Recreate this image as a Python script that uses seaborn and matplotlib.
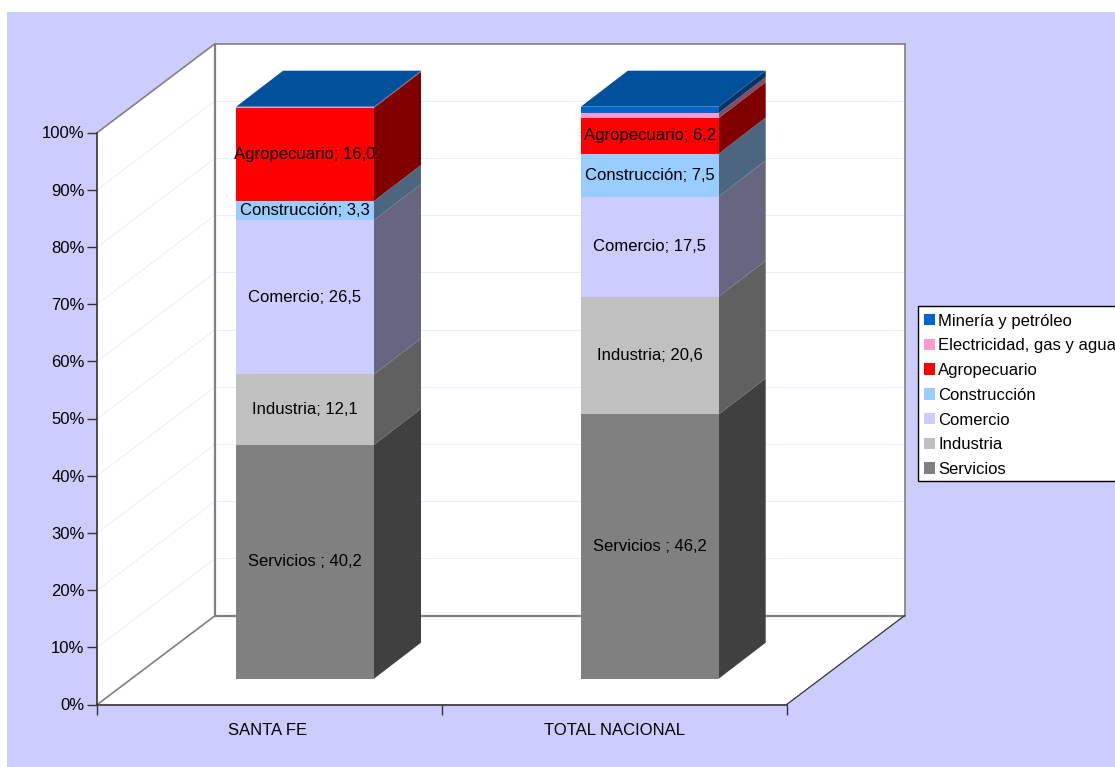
import matplotlib
matplotlib.use("Agg")
import matplotlib.pyplot as plt
import numpy as np
import pandas as pd
import seaborn as sns
from matplotlib.patches import Patch, Polygon, Rectangle
from matplotlib.transforms import Affine2D, IdentityTransform

categories = ["SANTA FE", "TOTAL NACIONAL"]
sectors = ["Servicios", "Industria", "Comercio", "Construcción", "Agropecuario",
           "Electricidad, gas y agua", "Minería y petróleo"]
label_names = ["Servicios ", "Industria", "Comercio", "Construcción", "Agropecuario", None, None]
servicios = [40.2, 46.2]
industria = [12.1, 20.6]
comercio = [26.5, 17.5]
construccion = [3.3, 7.5]
agropecuario = [16.0, 6.2]
electricidad = [0.1, 0.9]
mineria = [0.1, 1.1]
front_colors = ["#808080", "#C0C0C0", "#CCCCFF", "#99CCFF", "#FF0000", "#FF99CC", "#0066CC"]
side_colors = ["#404040", "#606060", "#666680", "#4D6680", "#800000", "#804D66", "#003366"]
top_color = "#00509C"
bg = "#CCCCFF"
y_ticks = list(range(0, 101, 10))

series = [servicios, industria, comercio, construccion, agropecuario, electricidad, mineria]
values = np.array(series, dtype=float)
shares = values / values.sum(axis=0) * 100
bottoms = np.vstack([np.zeros(2), np.cumsum(shares, axis=0)[:-1]])

sns.set_style("white")
plt.rcParams["font.family"] = ["Liberation Sans", "DejaVu Sans"]
plt.rcParams["font.size"] = 12
plt.rcParams["text.color"] = "black"
plt.rcParams["xtick.color"] = "black"
plt.rcParams["ytick.color"] = "black"

W, H = 1115, 767
fig = plt.figure(figsize=(W / 100, H / 100), dpi=100, facecolor="white")
fig.add_artist(Rectangle((7, 0), W - 7, H - 12, transform=IdentityTransform(),
                         facecolor=bg, edgecolor="none", zorder=-10))
ax = fig.add_axes([97.3 / W, (H - 704.5) / H, 689.4 / W, 572 / H])
ax.set_facecolor("none")

# depth offsets in pixels (depth of the floor, bar front, bar rear)
full = Affine2D().translate(118, 89)
bar_front = Affine2D().translate(35.4, 25.8)
bar_back = Affine2D().translate(35.4 + 47, 25.8 + 36)
t_full = ax.transData + full
t_front = ax.transData + bar_front
t_back = ax.transData + bar_back

x0, x1 = -0.5, 1.5
wall_edge = "#808080"

# Front faces through seaborn
bar_w = 0.4
for i, name in enumerate(sectors):
    frame = pd.DataFrame({"region": categories, "share": shares[i]})
    n_before = len(ax.patches)
    sns.barplot(data=frame, x="region", y="share", order=categories, bottom=bottoms[i],
                width=bar_w, color=front_colors[i], saturation=1, ax=ax,
                linewidth=0, zorder=3)
    for patch in ax.patches[n_before:]:
        patch.set_transform(t_front)
        patch.set_clip_on(False)
        patch.set_antialiased(False)

ax.set_xlim(x0, x1)
ax.set_ylim(0, 100)
ax.set_xlabel("")
ax.set_ylabel("")


def project(x, y, tr):
    return tr.transform((x, y))


def poly(points, **kw):
    p = Polygon(points, closed=True, transform=IdentityTransform(), clip_on=False, **kw)
    ax.add_artist(p)
    return p


def line(a, b, color, lw, z):
    ax.add_artist(plt.Line2D([a[0], b[0]], [a[1], b[1]], color=color, lw=lw, zorder=z,
                             transform=IdentityTransform(), clip_on=False))


# Walls and floor
fl, fr = project(x0, 0, ax.transData), project(x1, 0, ax.transData)
ftl = project(x0, 100, ax.transData)
bl, br = project(x0, 0, t_full), project(x1, 0, t_full)
btl, btr = project(x0, 100, t_full), project(x1, 100, t_full)
poly([fl, bl, btl, ftl], facecolor="white", edgecolor="none", zorder=0.5)
poly([bl, br, btr, btl], facecolor="white", edgecolor="none", zorder=0.5)
poly([fl, fr, br, bl], facecolor="white", edgecolor="none", zorder=0.5)
for v in y_ticks[1:-1]:
    a, b = project(x0, v, ax.transData), project(x0, v, t_full)
    c = project(x1, v, t_full)
    line(a, b, "#EBEBFF", 0.7, 0.7)
    line(b, c, "#EBEBFF", 0.7, 0.7)
line(ftl, btl, wall_edge, 1.2, 0.9)
line(btl, btr, wall_edge, 1.2, 0.9)
line(bl, btl, wall_edge, 1.6, 0.9)
line(br, btr, wall_edge, 1.2, 0.9)
line(bl, br, wall_edge, 1.6, 0.9)
line(fl, bl, wall_edge, 1.2, 0.9)
line(fr, br, "#333333", 0.9, 0.9)

# Side faces and top
for j in range(len(categories)):
    xr = j + bar_w / 2
    xl = j - bar_w / 2
    for i in range(len(sectors)):
        lo, hi = bottoms[i][j], bottoms[i][j] + shares[i][j]
        poly([project(xr, lo, t_front), project(xr, lo, t_back),
              project(xr, hi, t_back), project(xr, hi, t_front)],
             facecolor=side_colors[i], edgecolor="none", zorder=2)
    poly([project(xl, 100, t_front), project(xr, 100, t_front),
          project(xr, 100, t_back), project(xl, 100, t_back)],
         facecolor=top_color, edgecolor="none", zorder=2)

# Data labels
for i, lab in enumerate(label_names):
    if lab is None:
        continue
    for j in range(len(categories)):
        txt = f"{lab}; {series[i][j]:.1f}".replace(".", ",")
        ax.text(j, bottoms[i][j] + shares[i][j] / 2, txt, transform=t_front, ha="center",
                va="center", fontsize=12, color="black", zorder=5, clip_on=False)

# Axes
ax.set_yticks(y_ticks)
ax.set_yticklabels([f"{v}%" for v in y_ticks])
ax.tick_params(axis="y", length=7.2, width=1, color="#333333", pad=2, labelsize=12, left=True)
ax.set_xticks([0, 1])
ax.set_xticklabels(categories)
ax.set_xticks([-0.5, 0.5, 1.5], minor=True)
ax.tick_params(axis="x", which="major", length=0, pad=13.5, labelsize=12)
ax.tick_params(axis="x", which="minor", length=7.2, width=1, color="#333333", bottom=True)
first = ax.get_xticklabels()[0]
first.set_transform(first.get_transform() + Affine2D().translate(-2, 0))
ax.set_zorder(2)
for s in ["top", "right"]:
    ax.spines[s].set_visible(False)
for s in ["left", "bottom"]:
    ax.spines[s].set_color("#333333")
    ax.spines[s].set_linewidth(1.2)
    ax.spines[s].set_zorder(1)

# Legend
fig.add_artist(Rectangle((918, H - 481), 300, 175, transform=IdentityTransform(),
                         facecolor="white", edgecolor="black", linewidth=1, zorder=1))
handles = [Patch(facecolor=front_colors[i], edgecolor="none", label=sectors[i])
           for i in reversed(range(len(sectors)))]
leg = ax.legend(handles=handles, loc="upper left",
                bbox_to_anchor=(924 / W, (H - 313.5) / H), bbox_transform=fig.transFigure,
                frameon=False, fontsize=12, borderaxespad=0, borderpad=0,
                labelspacing=0.585, handlelength=0.67, handleheight=0.67, handletextpad=0.18)
leg.set_zorder(6)

fig.savefig("out.png", dpi=100, facecolor="white")
